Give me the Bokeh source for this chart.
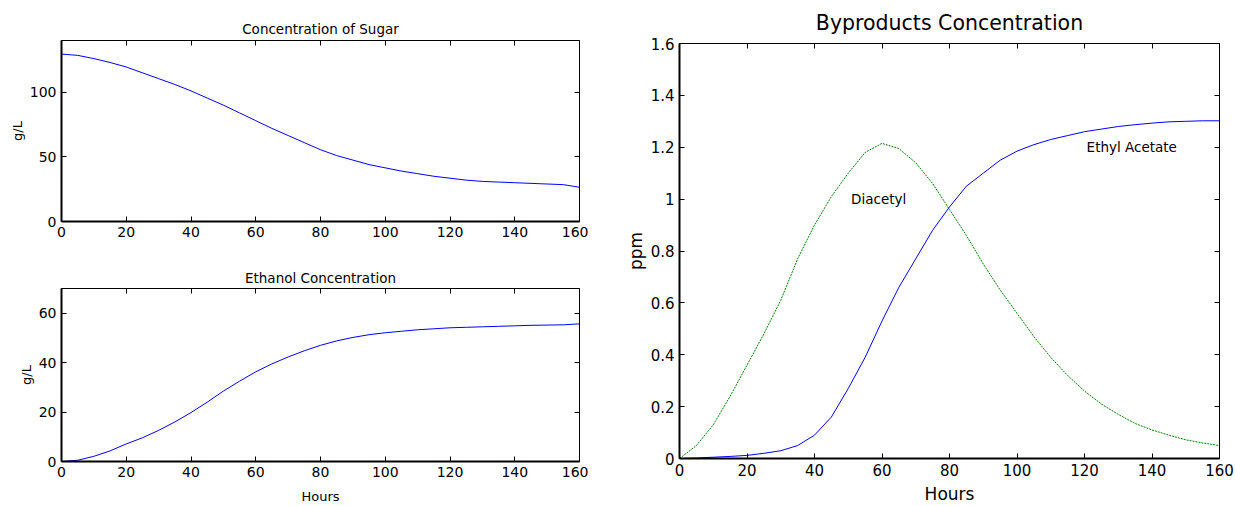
from bokeh.plotting import figure
from bokeh.models import LinearAxis, Range1d, Label
from bokeh.layouts import row, column
from bokeh.embed import file_html
from bokeh.resources import INLINE

# ---------------- data ----------------
hours = [0, 5, 10, 15, 20, 25, 30, 35, 40, 45, 50, 55, 60, 65, 70, 75, 80,
         85, 90, 95, 100, 105, 110, 115, 120, 125, 130, 135, 140, 145, 150, 155, 160]

sugar = [129.5, 128.5, 126, 123, 119.5, 115, 110.5, 106, 101, 95.5, 90, 84, 78, 72, 66.5, 61, 55.5,
         51, 47.5, 44, 41.5, 39, 37, 35, 33.5, 32, 31, 30.5, 30, 29.5, 29, 28.5, 26.5]

ethanol = [0, 0.5, 2.1, 4.3, 7.1, 9.6, 12.6, 16, 19.8, 24, 28.5, 32.5, 36.3, 39.5, 42.3, 44.8, 47,
           48.8, 50.2, 51.3, 52.1, 52.7, 53.3, 53.7, 54.1, 54.3, 54.5, 54.7, 54.9, 55.1, 55.2, 55.3, 55.7]

diacetyl = [0, 0.05, 0.13, 0.24, 0.36, 0.48, 0.61, 0.77, 0.9, 1.01, 1.1, 1.18, 1.215, 1.195, 1.14, 1.06, 0.96,
            0.86, 0.75, 0.65, 0.56, 0.47, 0.39, 0.32, 0.26, 0.21, 0.17, 0.135, 0.11, 0.09, 0.072, 0.06, 0.05]

ethyl_acetate = [0, 0.002, 0.005, 0.008, 0.012, 0.02, 0.03, 0.05, 0.09, 0.16, 0.27, 0.39, 0.53, 0.66, 0.77, 0.88, 0.97,
                 1.05, 1.1, 1.15, 1.185, 1.21, 1.23, 1.245, 1.26, 1.27, 1.28, 1.287, 1.293, 1.298, 1.3, 1.302, 1.302]

hour_ticks = [0, 20, 40, 60, 80, 100, 120, 140, 160]
sugar_ticks = [0, 50, 100]
ethanol_ticks = [0, 20, 40, 60]
ppm_ticks = [0, 0.2, 0.4, 0.6, 0.8, 1, 1.2, 1.4, 1.6]

FONT = "DejaVu Sans"
BLUE = "#0000ff"
GREEN = "#008000"


def make_fig(width, height, yr, title, title_size, title_standoff, borders):
    p = figure(width=width, height=height, output_backend="svg", toolbar_location=None,
               x_range=Range1d(0, 160), y_range=Range1d(*yr),
               min_border_left=borders[0], min_border_right=borders[1],
               min_border_top=borders[2], min_border_bottom=borders[3])
    p.title.text = title
    p.title.align = "center"
    p.title.text_font = FONT
    p.title.text_font_size = title_size
    p.title.text_font_style = "normal"
    p.title.text_color = "black"
    p.title.standoff = title_standoff
    p.background_fill_color = "white"
    p.border_fill_color = "white"
    p.outline_line_color = "black"
    p.outline_line_width = 1
    p.outline_line_alpha = 1
    p.grid.visible = False
    return p


def style_axes(p, xticks, yticks, tick_size, label_size, xlabel, ylabel, xlabel_standoff=2, overrides=None):
    for ax, ticks, lab, st in ((p.below[0], xticks, xlabel, xlabel_standoff), (p.left[0], yticks, ylabel, 2)):
        ax.ticker = ticks
        ax.major_tick_in = 5
        ax.major_tick_out = 0
        ax.minor_tick_line_color = None
        ax.axis_line_width = 2
        ax.axis_line_color = "black"
        ax.major_tick_line_color = "black"
        ax.major_label_text_font = FONT
        ax.major_label_text_font_size = tick_size
        ax.major_label_text_color = "black"
        ax.major_label_standoff = 5
        ax.axis_label = lab
        ax.axis_label_text_font = FONT
        ax.axis_label_text_font_size = label_size
        ax.axis_label_text_font_style = "normal"
        ax.axis_label_text_color = "black"
        ax.axis_label_standoff = st
    if overrides:
        p.left[0].major_label_overrides = overrides
    # tick-only mirror axes on top and right (MATLAB box style)
    for loc, ticks in (("above", xticks), ("right", yticks)):
        ax = LinearAxis(ticker=ticks, major_label_text_font_size="1px", major_label_text_color=None,
                        major_label_standoff=0, major_tick_in=5, major_tick_out=0,
                        minor_tick_line_color=None, axis_line_color=None,
                        major_tick_line_color="black")
        p.add_layout(ax, loc)


# ---------------- top-left: sugar ----------------
p1 = make_fig(588, 250, (0, 140), "Concentration of Sugar", "13.5px", 7, (61, 9, 40, 29))
p1.line(hours, sugar, line_color=BLUE, line_width=1)
style_axes(p1, hour_ticks, sugar_ticks, "14px", "13px", None, "g/L")

# ---------------- bottom-left: ethanol ----------------
p2 = make_fig(588, 256, (0, 70), "Ethanol Concentration", "13.5px", 6, (61, 9, 38, 43))
p2.line(hours, ethanol, line_color=BLUE, line_width=1)
style_axes(p2, hour_ticks, ethanol_ticks, "14px", "13px", "Hours", "g/L", xlabel_standoff=9)

# ---------------- right: byproducts ----------------
p3 = make_fig(647, 506, (0, 1.6), "Byproducts Concentration", "20.5px", 17, (91, 16, 41, 48))
p3.line(hours, diacetyl, line_color=GREEN, line_width=1, line_dash="2 1")
p3.line(hours, ethyl_acetate, line_color=BLUE, line_width=1)
style_axes(p3, hour_ticks, ppm_ticks, "15px", "17px", "Hours", "ppm", xlabel_standoff=5,
           overrides={0: "0", 1: "1"})

p3.add_layout(Label(x=59, y=1.0, text="Diacetyl", text_align="center", text_baseline="middle",
                    text_font=FONT, text_font_size="13.5px", text_color="black"))
p3.add_layout(Label(x=134, y=1.2, text="Ethyl Acetate", text_align="center", text_baseline="middle",
                    text_font=FONT, text_font_size="13.5px", text_color="black"))

layout = row(column(p1, p2), p3)

open("out.html", "w").write(file_html(layout, INLINE))
